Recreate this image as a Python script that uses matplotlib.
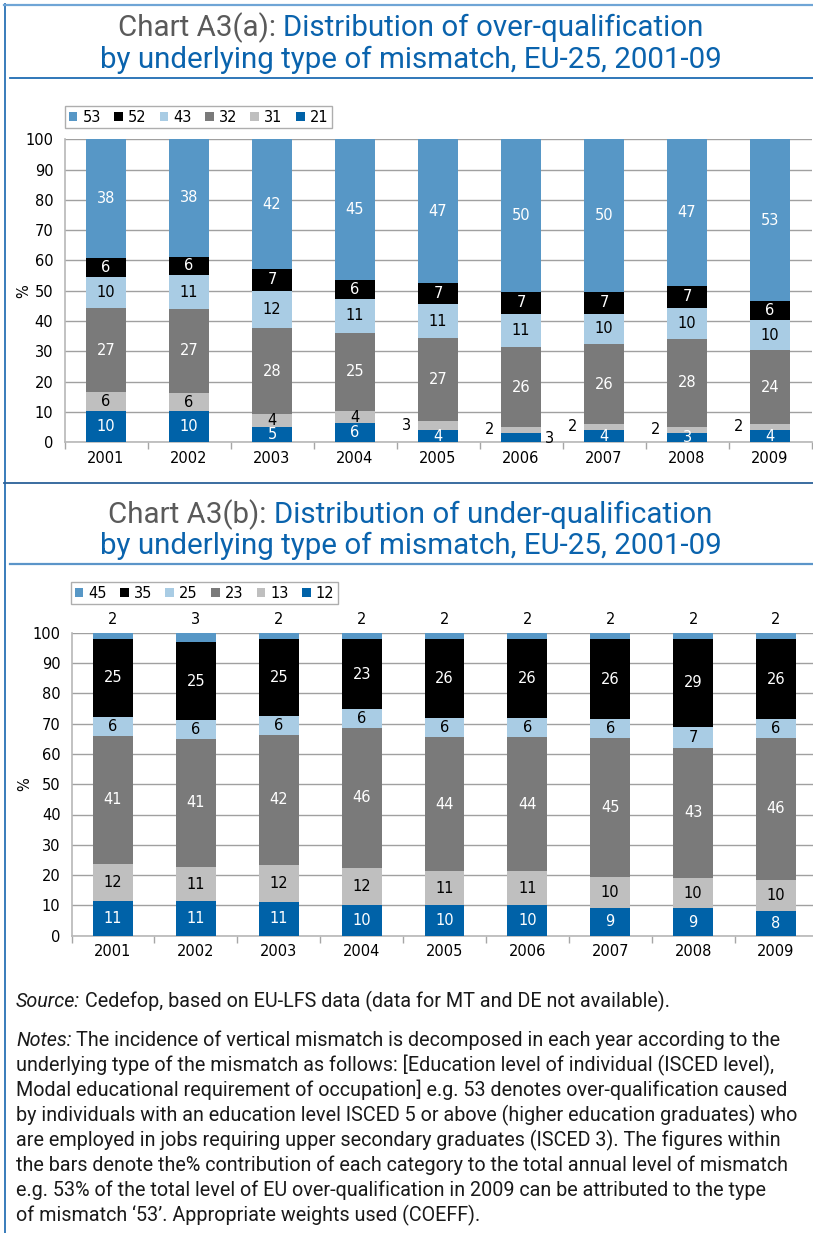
import numpy as np
import matplotlib
matplotlib.use("Agg")
import matplotlib.pyplot as plt
from matplotlib import font_manager
from matplotlib.patches import Patch
from matplotlib.lines import Line2D

# ---------------- data ----------------
years = ["2001", "2002", "2003", "2004", "2005", "2006", "2007", "2008", "2009"]

# Chart A3(a): over-qualification (stack order bottom -> top)
over_labels = ["21", "31", "32", "43", "52", "53"]
over_21 = [10, 10, 5, 6, 4, 3, 4, 3, 4]
over_31 = [6, 6, 4, 4, 3, 2, 2, 2, 2]
over_32 = [27, 27, 28, 25, 27, 26, 26, 28, 24]
over_43 = [10, 11, 12, 11, 11, 11, 10, 10, 10]
over_52 = [6, 6, 7, 6, 7, 7, 7, 7, 6]
over_53 = [38, 38, 42, 45, 47, 50, 50, 47, 53]

# Chart A3(b): under-qualification (stack order bottom -> top)
under_labels = ["12", "13", "23", "25", "35", "45"]
under_12 = [11, 11, 11, 10, 10, 10, 9, 9, 8]
under_13 = [12, 11, 12, 12, 11, 11, 10, 10, 10]
under_23 = [41, 41, 42, 46, 44, 44, 45, 43, 46]
under_25 = [6, 6, 6, 6, 6, 6, 6, 7, 6]
under_35 = [25, 25, 25, 23, 26, 26, 26, 29, 26]
under_45 = [2, 3, 2, 2, 2, 2, 2, 2, 2]

over_series = [over_21, over_31, over_32, over_43, over_52, over_53]
under_series = [under_12, under_13, under_23, under_25, under_35, under_45]

# ---------------- style ----------------
W, H = 813, 1233
C_DARK = "#0062a8"
C_LGRAY = "#bfbfbf"
C_GRAY = "#7a7a7a"
C_LBLUE = "#a9cce4"
C_BLACK = "#000000"
C_MID = "#5797c6"
seg_colors = [C_DARK, C_LGRAY, C_GRAY, C_LBLUE, C_BLACK, C_MID]
txt_colors = ["white", "black", "white", "black", "white", "white"]

names = {f.name for f in font_manager.fontManager.ttflist}
cond = "DejaVu Sans"
for cand in ["Roboto", "Open Sans", "Liberation Sans"]:
    if cand in names:
        cond = cand
        break
CHART_FONT = "DejaVu Sans"
plt.rcParams["font.family"] = [CHART_FONT]

fig = plt.figure(figsize=(W / 100, H / 100), dpi=100)
fig.patch.set_facecolor("white")
renderer = fig.canvas.get_renderer()


def fx(x):
    return x / W


def fy(y):
    return 1 - y / H


def text_width(s, size, **kw):
    t = fig.text(0, 0, s, fontsize=size, **kw)
    w = t.get_window_extent(renderer).width
    t.remove()
    return w


def fit_size(s, target, **kw):
    return 20 * target / text_width(s, 20, **kw)


# ---------------- frame lines ----------------
def hline(y, x0, x1, color, lw):
    fig.add_artist(Line2D([fx(x0), fx(x1)], [fy(y), fy(y)], color=color, lw=lw,
                          transform=fig.transFigure))


fig.add_artist(Line2D([fx(4.5), fx(4.5)], [fy(4), fy(H)], color="#2a72b5", lw=1.3,
                      transform=fig.transFigure))
hline(4.5, 4, W, "#6fa5d6", 1.6)
hline(77.5, 10, W, "#1f6cb3", 1.3)
hline(483, 4, W, "#2b6198", 1.3)
hline(563.5, 10, W, "#5b95c9", 1.6)


# ---------------- titles ----------------
def title_block(y1, y2, label, rest, line2, size):
    full = label + rest
    Wf = text_width(full, size, family=cond)
    w2 = text_width(rest, size, family=cond)
    x0 = W / 2 + 4 - Wf / 2
    fig.text(fx(x0), fy(y1), label, fontsize=size, family=cond, color="#5a5a5a",
             ha="left", va="baseline")
    fig.text(fx(x0 + Wf - w2), fy(y1), rest, fontsize=size, family=cond,
             color="#0a63ad", ha="left", va="baseline")
    fig.text(fx(W / 2 + 4), fy(y2), line2, fontsize=size, family=cond,
             color="#0a63ad", ha="center", va="baseline")


tline2 = "by underlying type of mismatch, EU-25, 2001-09"
tsize = fit_size(tline2, 620, family=cond)
title_block(36, 68, "Chart A3(a): ", "Distribution of over-qualification", tline2, tsize)
title_block(523, 554, "Chart A3(b): ", "Distribution of under-qualification", tline2, tsize)


# ---------------- charts ----------------
def draw_chart(rect, series, labels, legend_rect, outside_left=(), outside_right=(),
               top_above=False):
    ax = fig.add_axes(rect)
    x = np.arange(len(years))
    data = np.array(series, dtype=float)
    totals = data.sum(axis=0)
    heights = data / totals * 100
    bw = 0.48
    bottom = np.zeros(len(years))
    for k, (h, vals) in enumerate(zip(heights, data)):
        ax.bar(x, h, bw, bottom=bottom, color=seg_colors[k], zorder=3, linewidth=0)
        for i in range(len(years)):
            yc = bottom[i] + h[i] / 2
            s = f"{int(vals[i])}"
            if top_above and k == len(series) - 1:
                ax.annotate(s, (x[i], 100), xytext=(0, 4), textcoords="offset points",
                            ha="center", va="bottom", fontsize=10.5, color="black")
            elif (k, i) in outside_left:
                ax.annotate(s, (x[i] - bw / 2, yc), xytext=(-5, 0),
                            textcoords="offset points", ha="right", va="center",
                            fontsize=10.5, color="black")
            elif (k, i) in outside_right:
                ax.annotate(s, (x[i] + bw / 2, yc), xytext=(3, -1),
                            textcoords="offset points", ha="left", va="center",
                            fontsize=10.5, color="black")
            else:
                ax.text(x[i], yc, s, ha="center", va="center", fontsize=10.5,
                        color=txt_colors[k], zorder=4)
        bottom += h
    ax.set_xlim(-0.5, len(years) - 0.5)
    ax.set_ylim(0, 100)
    ax.set_yticks(np.arange(0, 101, 10))
    ax.set_xticks(x)
    ax.set_xticklabels(years)
    ax.set_xticks(np.arange(-0.5, len(years), 1), minor=True)
    ax.tick_params(axis="x", which="major", length=0, pad=6, labelsize=10.5)
    ax.tick_params(axis="x", which="minor", length=5, color="#a6a6a6", width=1)
    ax.tick_params(axis="y", length=0, pad=8, labelsize=10.5)
    ax.yaxis.grid(True, color="#a0a0a0", lw=1, zorder=0)
    ax.set_axisbelow(True)
    for sp in ["top", "right"]:
        ax.spines[sp].set_visible(False)
    for sp in ["left", "bottom"]:
        ax.spines[sp].set_color("#b8b8b8")
        ax.spines[sp].set_linewidth(1.2)
    ax.set_ylabel("%", fontsize=10.5, labelpad=4)
    handles = [Patch(facecolor=seg_colors[k], edgecolor="none", label=labels[k])
               for k in range(len(labels) - 1, -1, -1)]
    leg = fig.legend(handles=handles, loc="upper left",
                     bbox_to_anchor=legend_rect, ncol=6, frameon=True, fancybox=False,
                     fontsize=10.5, handlelength=0.6, handleheight=0.6,
                     handletextpad=0.35, columnspacing=0.9, borderpad=0.25,
                     borderaxespad=0)
    leg.get_frame().set_edgecolor("#9a9a9a")
    leg.get_frame().set_linewidth(1.0)
    return ax


ax1 = draw_chart([fx(64.5), fy(442.2), fx(811.5 - 64.5), (442.2 - 139.2) / H],
                 over_series, over_labels, (fx(65), fy(106)),
                 outside_left={(1, 4), (1, 5), (1, 6), (1, 7), (1, 8)},
                 outside_right={(0, 5)})
ax1.yaxis.set_label_coords(-0.045, 0.5)

ax2 = draw_chart([fx(71.6), fy(935.7), fx(817.4 - 71.6), (935.7 - 632.7) / H],
                 under_series, under_labels, (fx(71), fy(582)), top_above=True)
ax2.yaxis.set_label_coords(-0.053, 0.5)

# ---------------- notes ----------------
note_lines = [
    "underlying type of the mismatch as follows: [Education level of individual (ISCED level),",
    "Modal educational requirement of occupation] e.g. 53 denotes over-qualification caused",
    "by individuals with an education level ISCED 5 or above (higher education graduates) who",
    "are employed in jobs requiring upper secondary graduates (ISCED 3). The figures within",
    "the bars denote the% contribution of each category to the total annual level of mismatch",
    "e.g. 53% of the total level of EU over-qualification in 2009 can be attributed to the type",
    "of mismatch \u201853\u2019. Appropriate weights used (COEFF).",
]
nsize = fit_size(note_lines[2], 781, family=cond)
x0 = 16
sp_w = text_width("a a", nsize, family=cond) - text_width("aa", nsize, family=cond)


def lead_line(y, lead, rest):
    wl = text_width(lead, nsize, family=cond, style="italic")
    fig.text(fx(x0), fy(y), lead, fontsize=nsize, family=cond, style="italic",
             color="#1a1a1a", va="baseline")
    fig.text(fx(x0 + wl + sp_w), fy(y), rest, fontsize=nsize, family=cond,
             color="#1a1a1a", va="baseline")


lead_line(1007, "Source:", "Cedefop, based on EU-LFS data (data for MT and DE not available).")
lead_line(1046, "Notes:", "The incidence of vertical mismatch is decomposed in each year according to the")
for j, line in enumerate(note_lines):
    fig.text(fx(x0), fy(1071 + 25.1 * j), line, fontsize=nsize, family=cond,
             color="#1a1a1a", va="baseline")

fig.savefig("out.png", dpi=100, facecolor="white")
